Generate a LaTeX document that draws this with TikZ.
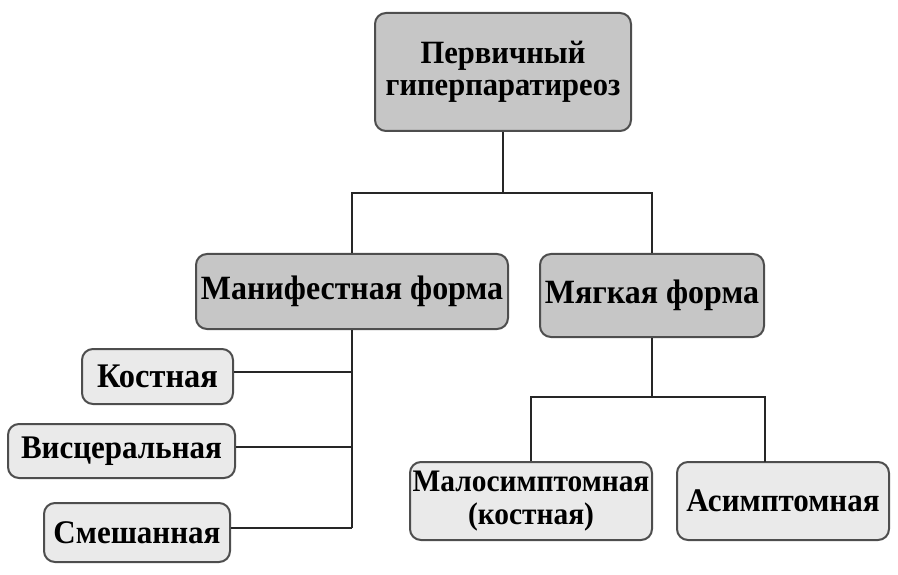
\documentclass[tikz,border=0pt]{standalone}
\usepackage{fontspec}
\setmainfont{Liberation Serif}
\newfontfamily\condserif[FakeStretch=0.94]{Liberation Serif}
\usetikzlibrary{calc}
\definecolor{darkbox}{HTML}{C6C6C6}
\definecolor{lightbox}{HTML}{EAEAEA}
\definecolor{edgegray}{HTML}{4E4E4E}
\newcommand{\fsz}[2]{\condserif\bfseries\fontsize{#1}{#2}\selectfont}
\begin{document}
\begin{tikzpicture}[x=1pt,y=-1pt,
  box/.style={draw=edgegray,line width=2pt,rounded corners=11pt,inner sep=0pt,align=center},
  mainbox/.style={box,fill=darkbox},
  leafbox/.style={box,fill=lightbox},
  conn/.style={draw=black!85,line width=2pt}]
\useasboundingbox (0,0) rectangle (898,575);
\node[mainbox,minimum width=256pt,minimum height=118pt,font=\fsz{32.5}{32}] (top) at (503,72) {Первичный\\гиперпаратиреоз};
\node[mainbox,minimum width=312pt,minimum height=75pt,font=\fsz{34}{34}] (man) at (352,291.5) {Манифестная форма};
\node[mainbox,minimum width=224pt,minimum height=83pt,font=\fsz{34}{34}] (soft) at (652,295.5) {Мягкая форма};
\node[leafbox,minimum width=151pt,minimum height=55pt,font=\fsz{34.5}{34}] (kost) at (157.5,376.5) {Костная};
\node[leafbox,minimum width=227pt,minimum height=54pt,font=\fsz{33}{34}] (visc) at (121.5,451) {Висцеральная};
\node[leafbox,minimum width=186pt,minimum height=59pt,font=\fsz{33}{34}] (mix) at (137,532.5) {Смешанная};
\node[leafbox,minimum width=242pt,minimum height=78pt,font=\fsz{31.3}{33}] (malo) at (531,501) {Малосимптомная\\(костная)};
\node[leafbox,minimum width=212pt,minimum height=78pt,font=\fsz{33}{34}] (asim) at (783,501) {Асимптомная};
\coordinate (j1) at (top.south |- 0,193);
\coordinate (j2) at (soft.south |- 0,397);
\coordinate (j3) at (765,462);
\coordinate (k1) at ($(kost.east)+(0,-4.5)$);
\coordinate (v1) at ($(visc.east)+(0,-4.5)$);
\coordinate (m1) at ($(mix.east)+(0,-5)$);
\coordinate (j4) at (man.south |- m1);
\draw[conn] (top.south) -- (j1);
\draw[conn] (man.north) |- (j1) -| (soft.north);
\draw[conn] (man.south) -- (j4);
\draw[conn] (k1) -- (k1 -| j4);
\draw[conn] (v1) -- (v1 -| j4);
\draw[conn] (m1) -- (j4);
\draw[conn] (soft.south) -- (j2);
\draw[conn] (malo.north) |- (j2) -| (j3);
\end{tikzpicture}
\end{document}
